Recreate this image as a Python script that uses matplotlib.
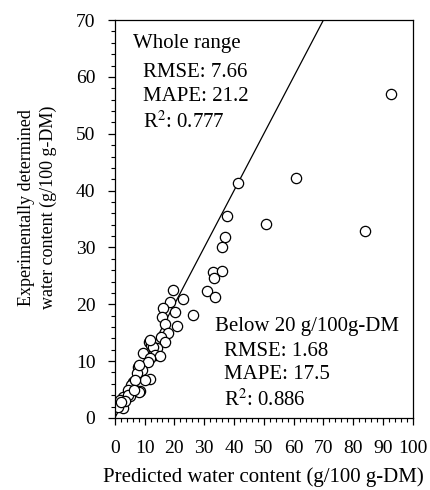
import matplotlib
matplotlib.use('Agg')
from matplotlib import pyplot as plt
from matplotlib.ticker import MultipleLocator

predicted = [92.8, 41.2, 60.7, 37.8, 50.9, 84.1, 37.1, 36.0, 32.8, 36.1,
             33.4, 31.0, 33.6, 19.5, 22.9, 26.2, 18.6, 16.2, 20.3, 15.9,
             16.7, 20.8, 18.0, 15.4, 17.0, 11.5, 12.3, 14.0, 12.9, 9.6,
             13.4, 15.2, 11.7, 11.2, 7.8, 9.0, 7.3, 11.7, 10.1, 6.2,
             5.6, 8.4, 4.5, 5.0, 2.8, 1.7, 2.2, 2.8, 1.1, 4.5,
             6.7, 8.2, 8.0, 3.5, 2.0, 11.8, 6.5]
measured = [57.0, 41.3, 42.3, 35.5, 34.2, 32.9, 31.9, 30.1, 25.6, 25.8,
            24.7, 22.4, 21.2, 22.6, 20.9, 18.1, 20.4, 19.3, 18.7, 17.8,
            16.6, 16.2, 15.0, 14.2, 13.3, 13.4, 12.8, 12.3, 12.4, 11.4,
            11.1, 10.9, 10.5, 9.9, 9.0, 8.4, 7.9, 6.9, 6.7, 6.4,
            5.8, 4.8, 4.9, 3.8, 3.7, 3.2, 2.3, 1.7, 2.0, 4.0,
            6.7, 4.5, 9.3, 3.0, 2.8, 13.8, 5.0]

plt.rcParams['font.family'] = ['Liberation Serif', 'DejaVu Serif']
plt.rcParams['mathtext.fontset'] = 'stix'

fig = plt.figure(figsize=(4.3, 4.9), dpi=100)
ax = fig.add_axes([0.267, 0.147, 0.693, 0.812])

ax.plot([0, 100], [0, 100], color='black', linewidth=0.9, zorder=1)
ax.plot(predicted, measured, linestyle='none', marker='o', markersize=7.4,
        markerfacecolor='white', markeredgecolor='black', markeredgewidth=0.9, zorder=2)

ax.set_xlim(0, 100)
ax.set_ylim(0, 70)
ax.xaxis.set_major_locator(MultipleLocator(10))
ax.xaxis.set_minor_locator(MultipleLocator(2))
ax.yaxis.set_major_locator(MultipleLocator(10))
ax.yaxis.set_minor_locator(MultipleLocator(2))
ax.tick_params(which='major', direction='out', length=5, width=0.9, labelsize=14)
ax.tick_params(axis='x', which='major', pad=11)
ax.tick_params(axis='y', which='major', pad=9)
ax.tick_params(which='minor', direction='out', length=3, width=0.8)
for s in ax.spines.values():
    s.set_linewidth(0.9)

ax.set_xlabel('Predicted water content (g/100 g-DM)', fontsize=15, labelpad=7)
ax.set_ylabel('Experimentally determined\nwater content (g/100 g-DM)', fontsize=13,
              linespacing=1.3)
ax.yaxis.set_label_coords(-0.195, 0.53)

ax.text(6, 67.5, 'Whole range', fontsize=15, va='top')
ax.text(9.5, 62.4, 'RMSE: 7.66\nMAPE: 21.2\nR$^2$: 0.777', fontsize=15, va='top',
        linespacing=1.32)
ax.text(33.5, 17.7, 'Below 20 g/100g-DM', fontsize=15, va='top')
ax.text(36.5, 13.4, 'RMSE: 1.68\nMAPE: 17.5\nR$^2$: 0.886', fontsize=15, va='top',
        linespacing=1.32)

fig.savefig('out.png', dpi=100)
